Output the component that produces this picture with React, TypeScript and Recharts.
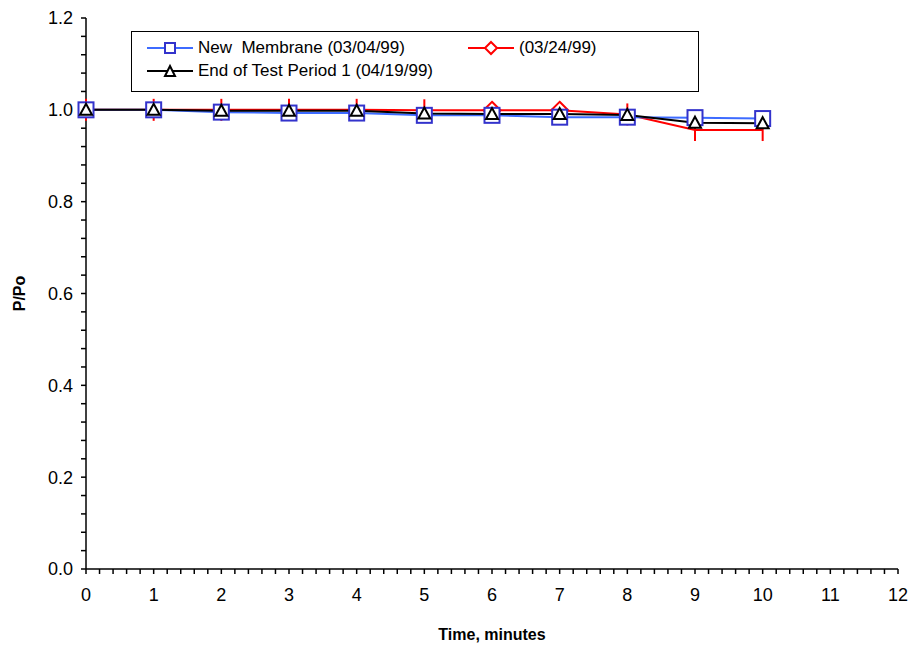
import React from 'react';
import { LineChart, Line, XAxis, YAxis } from 'recharts';

const times = [0, 1, 2, 3, 4, 5, 6, 7, 8, 9, 10];
const newMembrane = [1.0, 1.0, 0.995, 0.993, 0.993, 0.988, 0.988, 0.984, 0.984, 0.983, 0.981];
const march24 = [1.0, 1.0, 1.0, 1.0, 1.0, 0.999, 0.999, 0.999, 0.99, 0.956, 0.956];
// marker drawn at each (03/24/99) point
const march24Marker = ['bar', 'bar', 'bar', 'bar', 'bar', 'bar', 'diamond', 'diamond', 'bar', 'bar', 'bar'];
const endPeriod1 = [1.0, 1.0, 0.998, 0.998, 0.998, 0.992, 0.991, 0.991, 0.989, 0.972, 0.971];

const xMajorTicks = [0, 1, 2, 3, 4, 5, 6, 7, 8, 9, 10, 11, 12];
const yMajorTicks = [0, 0.2, 0.4, 0.6, 0.8, 1.0, 1.2];

// minor ticks: 5 subdivisions between each major
const withMinor = (majors: number[]) => {
  const out: number[] = [];
  for (let i = 0; i < majors.length - 1; i++) {
    const step = (majors[i + 1] - majors[i]) / 5;
    for (let k = 0; k < 5; k++) out.push(+(majors[i] + step * k).toFixed(4));
  }
  out.push(majors[majors.length - 1]);
  return out;
};
const xTicks = withMinor(xMajorTicks);
const yTicks = withMinor(yMajorTicks);

const data = times.map((t, i) => ({
  t,
  blue: newMembrane[i],
  red: march24[i],
  redMarker: march24Marker[i],
  black: endPeriod1[i],
}));

const FONT = '"Liberation Sans", Arial, sans-serif';
const BLUE_LINE = '#3d6bff';
const BLUE_MARK = '#3333cc';
const RED = '#ff0000';

const SquareDot = (props: any) => {
  const { cx, cy, index } = props;
  return <rect key={`sq-${index}`} x={cx - 7.5} y={cy - 7.5} width={15} height={15} fill="#fff" stroke={BLUE_MARK} strokeWidth={2} />;
};

const RedDot = (props: any) => {
  const { cx, cy, index, payload } = props;
  if (payload.redMarker === 'diamond') {
    const r = 8.5;
    return (
      <path key={`dm-${index}`} d={`M${cx},${cy - r}L${cx + r},${cy}L${cx},${cy + r}L${cx - r},${cy}Z`} fill="#fff" stroke={RED} strokeWidth={2} />
    );
  }
  return <line key={`bar-${index}`} x1={cx} y1={cy - 11} x2={cx} y2={cy + 11} stroke={RED} strokeWidth={2} />;
};

const TriangleDot = (props: any) => {
  const { cx, cy, index } = props;
  return (
    <path key={`tr-${index}`} d={`M${cx},${cy - 6}L${cx + 6},${cy + 5}L${cx - 6},${cy + 5}Z`} fill="#fff" stroke="#000" strokeWidth={2} />
  );
};

const legendRows = [
  [
    { label: 'New  Membrane (03/04/99)', line: BLUE_LINE, marker: 'square' },
    { label: '(03/24/99)', line: RED, marker: 'diamond' },
  ],
  [{ label: 'End of Test Period 1 (04/19/99)', line: '#000', marker: 'triangle' }],
];

const LegendIcon = ({ line, marker }: { line: string; marker: string }) => (
  <svg width={46} height={16} style={{ marginRight: 5, flexShrink: 0 }}>
    <line x1={0} y1={8} x2={46} y2={8} stroke={line} strokeWidth={2} />
    {marker === 'square' && <rect x={18} y={3} width={10} height={10} fill="#fff" stroke={BLUE_MARK} strokeWidth={2} />}
    {marker === 'diamond' && <path d="M23,2L29,8L23,14L17,8Z" fill="#fff" stroke={RED} strokeWidth={2} />}
    {marker === 'triangle' && <path d="M23,3L28,13L18,13Z" fill="#fff" stroke="#000" strokeWidth={2} />}
  </svg>
);

const LegendBox = () => (
  <div
    style={{
      position: 'absolute', left: 131, top: 31, width: 568, height: 61, border: '1px solid #000', background: '#fff',
      boxSizing: 'border-box', fontFamily: FONT, fontSize: 17, color: '#000', padding: '4px 0 0 15px',
    }}
  >
    {legendRows.map((row, ri) => (
      <div key={ri} style={{ display: 'flex', height: 23, alignItems: 'center' }}>
        {row.map((item, ii) => (
          <div key={ii} style={{ display: 'flex', alignItems: 'center', width: ii === 0 ? 321 : 'auto' }}>
            <LegendIcon line={item.line} marker={item.marker} />
            <span style={{ whiteSpace: 'pre' }}>{item.label}</span>
          </div>
        ))}
      </div>
    ))}
  </div>
);

const xFmt = (v: number) => (Math.abs(v - Math.round(v)) < 1e-6 ? String(Math.round(v)) : '');
const yFmt = (v: number) => (Math.abs(v * 5 - Math.round(v * 5)) < 1e-6 ? v.toFixed(1) : '');

export default function App() {
  return (
    <div style={{ position: 'absolute', left: 0, top: 0, width: 913, height: 649, background: '#fff' }}>
      <LineChart width={913} height={649} data={data} margin={{ top: 18, right: 15, left: 36, bottom: 30 }}>
        <XAxis
          dataKey="t"
          type="number"
          domain={[0, 12]}
          ticks={xTicks}
          interval={0}
          tickFormatter={xFmt}
          height={50}
          tickSize={5}
          tickMargin={14}
          axisLine={{ stroke: '#000', strokeWidth: 1.5 }}
          tickLine={{ stroke: '#000', strokeWidth: 1.5 }}
          tick={{ fill: '#000', fontSize: 18, fontFamily: FONT }}
          label={{
            content: (p: any) => (
              <text x={p.viewBox.x + p.viewBox.width / 2} y={640} textAnchor="middle" fontFamily={FONT} fontSize={16} fontWeight="bold" fill="#000">
                Time, minutes
              </text>
            ),
          }}
        />
        <XAxis xAxisId="top" orientation="top" type="number" domain={[0, 12]} height={0} tick={false} tickLine={false} axisLine={{ stroke: '#000', strokeWidth: 1.5 }} />
        <YAxis
          type="number"
          domain={[0, 1.2]}
          ticks={yTicks}
          interval={0}
          tickFormatter={yFmt}
          width={50}
          tickSize={5}
          tickMargin={8}
          axisLine={{ stroke: '#000', strokeWidth: 1.5 }}
          tickLine={{ stroke: '#000', strokeWidth: 1.5 }}
          tick={{ fill: '#000', fontSize: 18, fontFamily: FONT }}
          label={{
            content: (p: any) => {
              const cy = p.viewBox.y + p.viewBox.height / 2;
              return (
                <text x={25} y={cy} transform={`rotate(-90, 25, ${cy})`} textAnchor="middle" fontFamily={FONT} fontSize={16} fontWeight="bold" fill="#000">
                  P/Po
                </text>
              );
            },
          }}
        />
        <YAxis yAxisId="right" orientation="right" type="number" domain={[0, 1.2]} width={0} tick={false} tickLine={false} axisLine={{ stroke: '#000', strokeWidth: 1.5 }} />
        <Line dataKey="red" stroke={RED} strokeWidth={2} dot={RedDot} isAnimationActive={false} />
        <Line dataKey="blue" stroke={BLUE_LINE} strokeWidth={2} dot={SquareDot} isAnimationActive={false} />
        <Line dataKey="black" stroke="#000" strokeWidth={2} dot={TriangleDot} isAnimationActive={false} />
      </LineChart>
      <LegendBox />
    </div>
  );
}
